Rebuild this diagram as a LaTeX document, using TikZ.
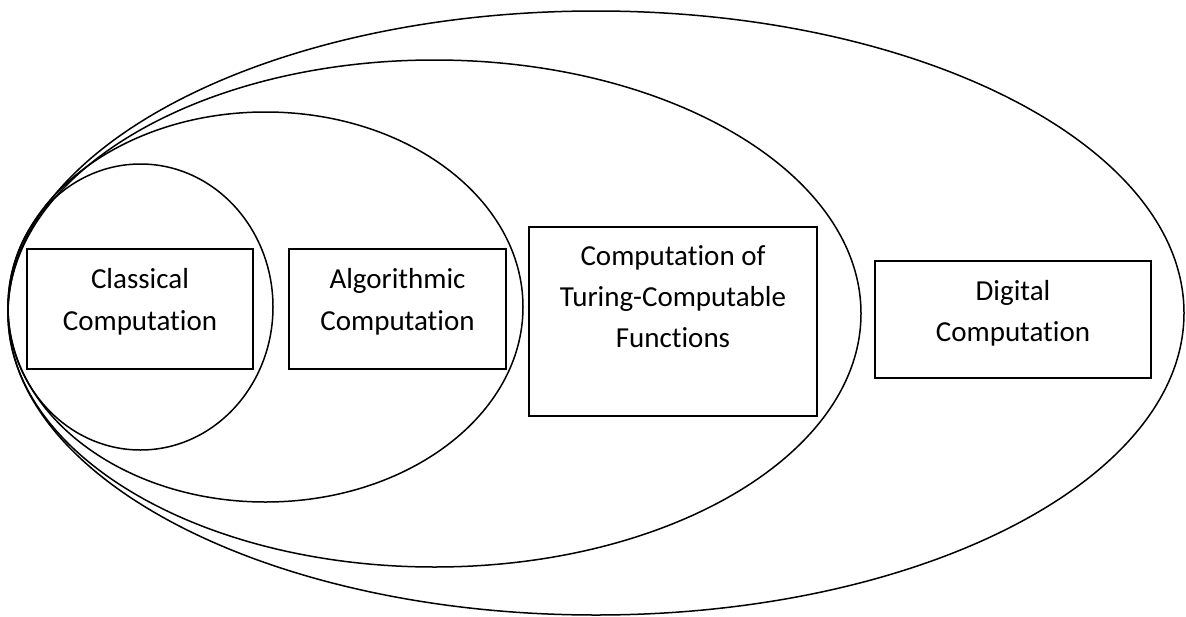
\documentclass[tikz,border=0pt]{standalone}
\usepackage{fontspec}
\setmainfont{Carlito}[Ligatures={NoCommon,NoContextual}]
\begin{document}
\begin{tikzpicture}[x=1pt,y=-1pt,
  ring/.style={draw=black,line width=1.5pt},
  box/.style={draw=black,line width=2pt,fill=none,inner sep=0pt,rectangle},
  lbl/.style={anchor=base,inner sep=0pt,font=\fontsize{29}{42}\selectfont,text=black}]
\useasboundingbox (0,0) rectangle (1186,616);
\fill[white] (0,0) rectangle (1186,616);
% nested ellipses
\draw[ring] (596,313) ellipse [x radius=588pt, y radius=302pt];
\draw[ring] (434.5,313.5) ellipse [x radius=426.5pt, y radius=253.5pt];
\draw[ring] (265.5,307) ellipse [x radius=257.5pt, y radius=195pt];
\draw[ring] (140.5,307) ellipse [x radius=132.5pt, y radius=143pt];
% boxes
\node[box, minimum width=226pt, minimum height=120pt] (cbox) at (140,309) {};
\node[box, minimum width=217pt, minimum height=120pt] (abox) at (397.5,309) {};
\node[box, minimum width=288pt, minimum height=189pt] (tbox) at (673,321.5) {};
\node[box, minimum width=276pt, minimum height=117pt] (dbox) at (1013,319.5) {};
% labels
\node[lbl] (c1) at (140,288) {Classical};
\node[lbl] (c2) at (140,330) {Computation};
\node[lbl] (a1) at (397.5,288) {Algorithmic};
\node[lbl] (a2) at (397.5,330) {Computation};
\node[lbl] (t1) at (673,265) {Computation of};
\node[lbl] (t2) at (673,306) {Turing-Computable};
\node[lbl] (t3) at (673,347) {Functions};
\node[lbl] (d1) at (1013,300) {Digital};
\node[lbl] (d2) at (1013,341) {Computation};
\end{tikzpicture}
\end{document}
